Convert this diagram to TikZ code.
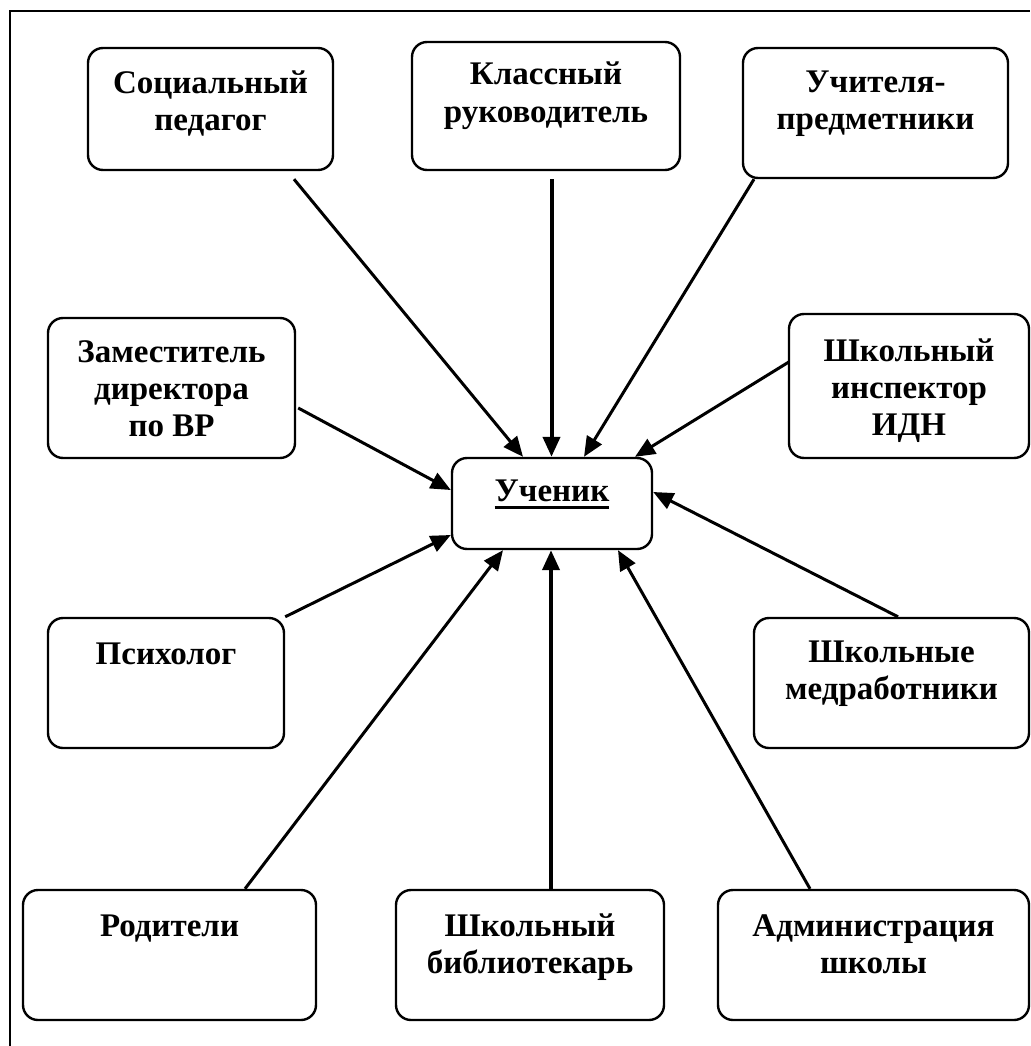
\documentclass[tikz,border=0pt]{standalone}
\usepackage{fontspec}
\setmainfont{Liberation Serif}
\usetikzlibrary{arrows.meta}
\newcommand\tstrut{\rule{0pt}{31pt}}
\begin{document}
\begin{tikzpicture}[x=1pt,y=-1pt,
  box/.style={draw, line width=2.4pt, rounded corners=15pt, inner sep=0pt},
  lbl/.style={anchor=north, inner sep=0pt, align=center, font=\fontsize{33}{37}\selectfont\bfseries},
  conn/.style={line width=3pt, -{Triangle[length=20pt,width=17pt]}},
  vconn/.style={conn, line width=4pt},
]
\useasboundingbox (0,0) rectangle (1030,1046);
\fill[white] (0,0) rectangle (1030,1046);
\draw[line width=1.5pt] (10,1046) -- (10,11) -- (1030,11);

% boxes
\node[box, minimum width=245pt, minimum height=122pt] (soc) at (210.5,109) {};
\node[box, minimum width=268pt, minimum height=128pt] (kl)  at (546,106) {};
\node[box, minimum width=265pt, minimum height=130pt] (uch) at (875.5,113) {};
\node[box, minimum width=247pt, minimum height=140pt] (zam) at (171.5,388) {};
\node[box, minimum width=240pt, minimum height=144pt] (idn) at (909,386) {};
\node[box, minimum width=200pt, minimum height=91pt]  (st)  at (552,503.5) {};
\node[box, minimum width=236pt, minimum height=130pt] (psy) at (166,683) {};
\node[box, minimum width=275pt, minimum height=130pt] (med) at (891.5,683) {};
\node[box, minimum width=293pt, minimum height=130pt] (rod) at (169.5,955) {};
\node[box, minimum width=268pt, minimum height=130pt] (bib) at (530,955) {};
\node[box, minimum width=311pt, minimum height=130pt] (adm) at (873.5,955) {};

% texts
\node[lbl] (soct) at ([yshift=-16pt]soc.north) {\tstrut Социальный\\педагог};
\node[lbl] (klt)  at ([yshift=-13pt]kl.north)  {\tstrut Классный\\руководитель};
\node[lbl] (ucht) at ([yshift=-15pt]uch.north) {\tstrut Учителя-\\предметники};
\node[lbl] (zamt) at ([yshift=-14pt]zam.north) {\tstrut Заместитель\\директора\\по ВР};
\node[lbl] (idnt) at ([yshift=-17pt]idn.north) {\tstrut Школьный\\инспектор\\ИДН};
\node[lbl] (psyt) at ([yshift=-16pt]psy.north) {\tstrut Психолог};
\node[lbl] (medt) at ([yshift=-14pt]med.north) {\tstrut Школьные\\медработники};
\node[lbl] (rodt) at ([yshift=-16pt]rod.north) {\tstrut Родители};
\node[lbl] (bibt) at ([yshift=-16pt]bib.north) {\tstrut Школьный\\библиотекарь};
\node[lbl] (admt) at ([yshift=-16pt]adm.north) {\tstrut Администрация\\школы};
\node[lbl, anchor=base] (stt) at ([yshift=-45pt]st.north) {Ученик};
\draw[line width=2.6pt] ([yshift=-5.5pt]stt.base west) -- ([yshift=-5.5pt]stt.base east);

% connectors
\draw[conn]  ([xshift=83.5pt,yshift=-8pt]soc.south) -- ([xshift=-29pt]st.north);
\draw[vconn] ([xshift=5.5pt,yshift=-8pt]kl.south) -- ([xshift=-0.5pt]st.north);
\draw[conn]  ([xshift=-121.5pt]uch.south) -- ([xshift=32pt]st.north);
\draw[conn]  ([xshift=1pt,yshift=24pt]idn.west) -- ([xshift=83pt]st.north);
\draw[conn]  ([xshift=2pt,yshift=-20pt]zam.east) -- ([yshift=13.5pt]st.west);
\draw[conn]  (psy.north east) -- ([yshift=-31.5pt]st.west);
\draw[conn]  ([xshift=6.5pt]med.north) -- ([yshift=11.5pt]st.east);
\draw[conn]  ([xshift=75.5pt]rod.north) -- ([xshift=-49pt]st.south);
\draw[vconn] ([xshift=21pt]bib.north) -- ([xshift=-1pt]st.south);
\draw[conn]  ([xshift=-63.5pt]adm.north) -- ([xshift=66pt]st.south);
\end{tikzpicture}
\end{document}
